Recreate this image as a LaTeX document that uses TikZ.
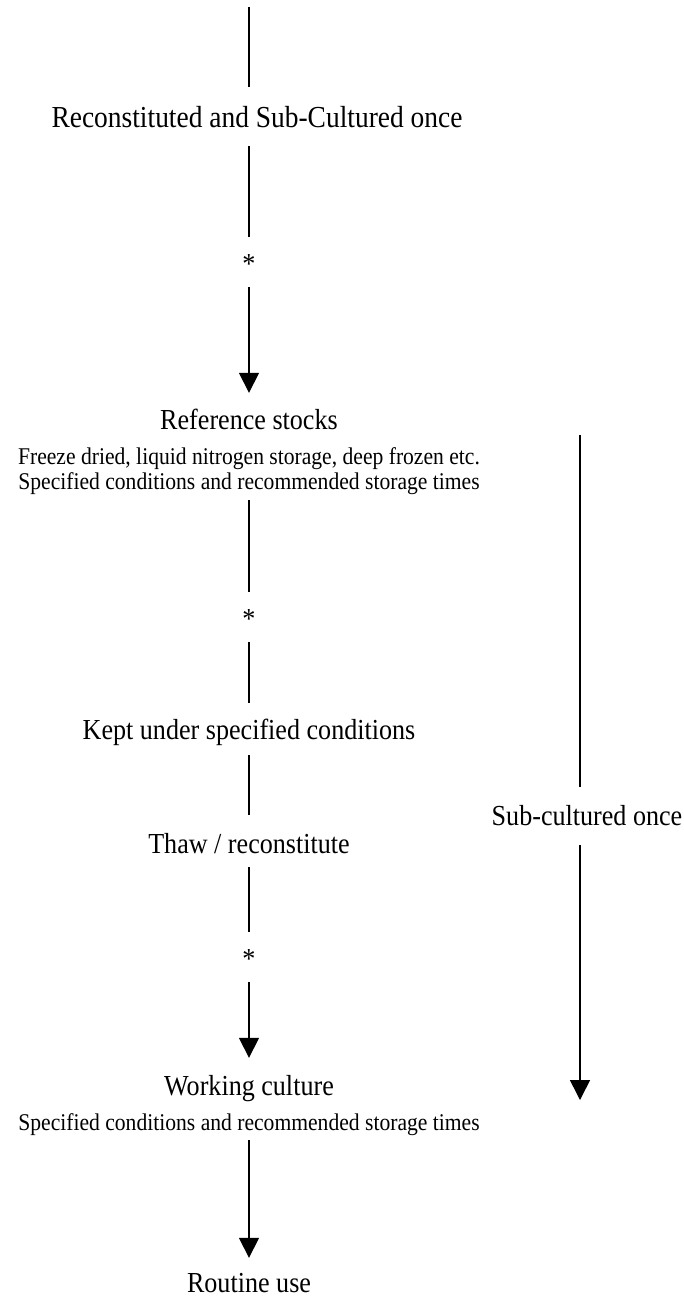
\documentclass[tikz,border=0pt]{standalone}
\usepackage{fontspec}
\setmainfont{Liberation Serif}[FakeStretch=0.9]
\usetikzlibrary{arrows.meta,calc}
\begin{document}
\begin{tikzpicture}[x=1pt,y=-1pt,
  bigtxt/.style={inner sep=0pt,anchor=base,font=\fontsize{29}{34}\selectfont,text height=20pt,text depth=7pt},
  hugetxt/.style={bigtxt,font=\fontsize{30.5}{36}\selectfont,text height=21pt},
  smalltxt/.style={inner sep=0pt,anchor=base,font=\fontsize{24}{25}\selectfont,text height=17pt,text depth=6pt},
  startxt/.style={inner sep=0pt,anchor=base,font=\fontsize{29}{34}\selectfont,text height=20pt,text depth=0pt},
  conn/.style={line width=1.6pt},
  arr/.style={conn,-{Triangle[length=20pt,width=20pt]}}]
\useasboundingbox (0,0) rectangle (684,1298);
% nodes
\coordinate (top) at (249,7);
\node[hugetxt] (rec) at (257,127) {Reconstituted and Sub-Cultured once};
\node[startxt] (s1) at (249,273.5) {*};
\node[bigtxt] (ref) at (249,429) {Reference stocks};
\node[smalltxt] (fd) at (249,464) {Freeze dried, liquid nitrogen storage, deep frozen etc.};
\node[smalltxt] (sp1) at (249,489) {Specified conditions and recommended storage times};
\node[startxt] (s2) at (249,628.5) {*};
\node[bigtxt] (kept) at (249,739) {Kept under specified conditions};
\node[bigtxt] (thaw) at (249,853) {Thaw / reconstitute};
\node[startxt] (s3) at (249,968.5) {*};
\node[bigtxt] (work) at (249,1095) {Working culture};
\node[smalltxt] (sp2) at (249,1130) {Specified conditions and recommended storage times};
\node[bigtxt] (rout) at (249,1292) {Routine use};
\coordinate (subtop) at (580,435);
\node[bigtxt] (sub) at (587,825) {Sub-cultured once};
\coordinate (subend) at (580,1100);
% connectors
\draw[conn] (top) -- ($(top |- rec.north)+(0,19pt)$);
\draw[conn] ($(s1.north |- rec.south)+(0,-12pt)$) -- ($(s1.north)+(0,16.5pt)$);
\draw[arr] ($(s1.south)+(0,-13.5pt)$) -- ($(ref.north)+(0,16pt)$);
\draw[conn] ($(sp1.south)+(0,-5pt)$) -- ($(s2.north)+(0,16.5pt)$);
\draw[conn] ($(s2.south)+(0,-13.5pt)$) -- ($(kept.north)+(0,16pt)$);
\draw[conn] ($(kept.south)+(0,-9pt)$) -- ($(thaw.north)+(0,18pt)$);
\draw[conn] ($(thaw.south)+(0,-7pt)$) -- ($(s3.north)+(0,16.5pt)$);
\draw[arr] ($(s3.south)+(0,-13.5pt)$) -- ($(work.north)+(0,17pt)$);
\draw[arr] ($(sp2.south)+(0,-4pt)$) -- ($(rout.north)+(0,14pt)$);
\draw[conn] (subtop) -- ($(subtop |- sub.north)+(0,18pt)$);
\draw[arr] ($(subend |- sub.south)+(0,-13pt)$) -- (subend);
\end{tikzpicture}
\end{document}
